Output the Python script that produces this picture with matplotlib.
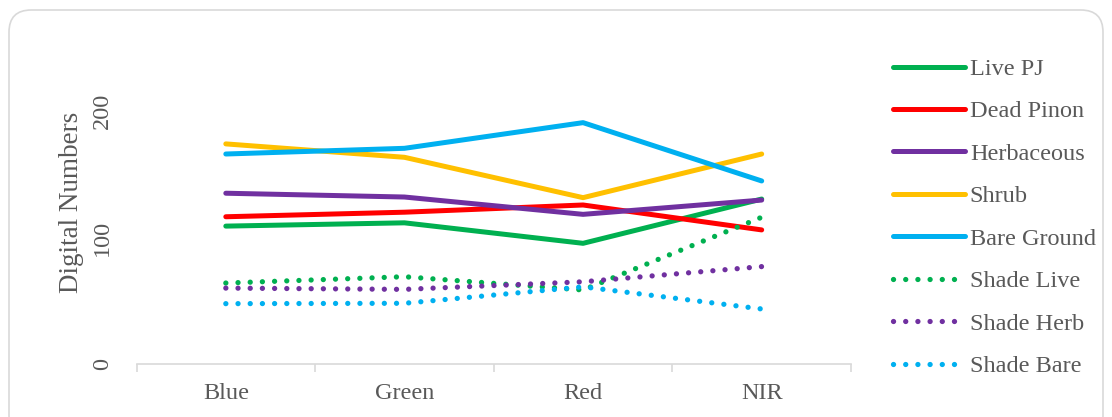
import matplotlib
matplotlib.use("Agg")
import matplotlib.pyplot as plt
from matplotlib.patches import FancyBboxPatch

bands = ["Blue", "Green", "Red", "NIR"]

live_pj = [109, 111.6, 95.4, 130.4]
dead_pinon = [116.4, 120, 125.7, 106]
herbaceous = [135, 132, 118.3, 129.6]
shrub = [174, 163.4, 131.5, 166]
bare_ground = [166, 170.5, 190.8, 144.7]
shade_live = [64, 69, 58.5, 116]
shade_herb = [60, 59, 65, 77]
shade_bare = [47.7, 48, 61, 43.5]

series_names = ["Live PJ", "Dead Pinon", "Herbaceous", "Shrub", "Bare Ground",
                "Shade Live", "Shade Herb", "Shade Bare"]
series_values = [live_pj, dead_pinon, herbaceous, shrub, bare_ground,
                 shade_live, shade_herb, shade_bare]
series_colors = ["#00B050", "#FF0000", "#7030A0", "#FFC000", "#00B0F0",
                 "#00B050", "#7030A0", "#00B0F0"]
series_dotted = [False] * 5 + [True] * 3

text_color = "#595959"
plt.rcParams["font.family"] = ["Liberation Serif", "DejaVu Serif"]
fs = 17.5

W, H = 1112, 417
fig = plt.figure(figsize=(W / 100, H / 100), dpi=100)

# rounded chart border
fig.patches.append(FancyBboxPatch((9 / W, -0.05), (W - 18) / W, 1 - 10 / H + 0.05,
                                  boxstyle="round,pad=0,rounding_size=0.02",
                                  transform=fig.transFigure, facecolor="none",
                                  edgecolor="#d9d9d9", linewidth=1.2,
                                  mutation_aspect=W / H, zorder=-1))

ax_left, ax_right = 136.5, 851
ax_bottom, ymax = 364, 250
px_per_unit = 1.265
ax = fig.add_axes([ax_left / W, (H - ax_bottom) / H,
                   (ax_right - ax_left) / W, ymax * px_per_unit / H])
ax.patch.set_alpha(0)

x = list(range(len(bands)))
for name, vals, col, dotted in zip(series_names, series_values, series_colors, series_dotted):
    if dotted:
        ax.plot(x, vals, color=col, lw=3.8, linestyle=(0, (0.01, 2.3)),
                dash_capstyle="round", label=name)
    else:
        ax.plot(x, vals, color=col, lw=3.6, solid_capstyle="round",
                solid_joinstyle="round", label=name)

ax.set_xlim(-0.5, len(bands) - 0.5)
ax.set_ylim(0, ymax)
ax.set_yticks([0, 100, 200])
ax.set_yticklabels(["0", "100", "200"], rotation=90, va="center",
                   fontsize=fs, color=text_color)
ax.tick_params(axis="y", length=0, pad=17)

ax.set_xticks(x)
ax.set_xticklabels(bands, fontsize=fs, color=text_color)
ax.set_xticks([i - 0.5 for i in range(len(bands) + 1)], minor=True)
ax.tick_params(axis="x", which="major", length=0, pad=14)
ax.tick_params(axis="x", which="minor", length=6, width=1.2, color="#d9d9d9")

for s in ["top", "right", "left"]:
    ax.spines[s].set_visible(False)
ax.spines["bottom"].set_color("#d9d9d9")
ax.spines["bottom"].set_linewidth(1.2)

fig.text(71 / W, 1 - 202 / H, "Digital Numbers", rotation=90, ha="center",
         va="center", fontsize=19.5, color=text_color)

leg = ax.legend(loc="upper left", bbox_to_anchor=(893 / W, 1 - 58 / H),
                bbox_transform=fig.transFigure, frameon=False, fontsize=fs,
                handlelength=2.96, handletextpad=0.2, labelspacing=0.84,
                borderaxespad=0, borderpad=0)
for t in leg.get_texts():
    t.set_color(text_color)

fig.savefig("out.png", dpi=100)
